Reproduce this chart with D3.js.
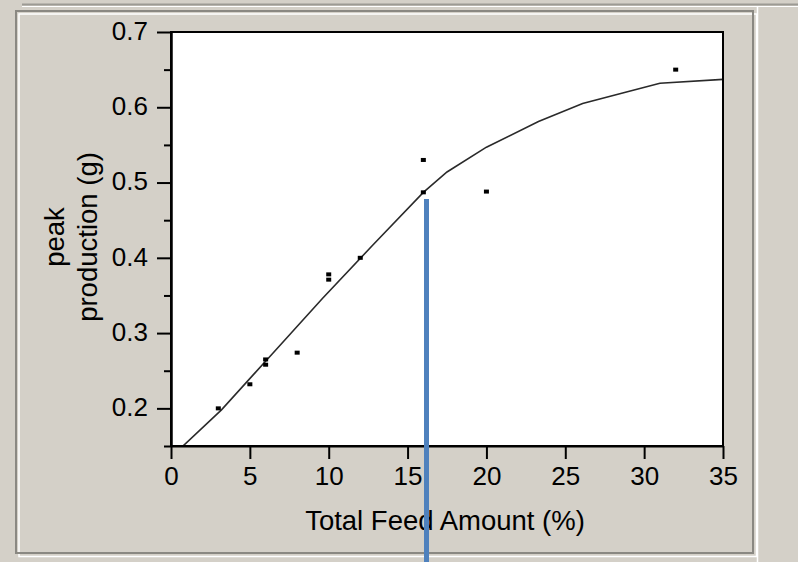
<!DOCTYPE html>
<html>
<head>
<meta charset="utf-8">
<script src="https://cdn.jsdelivr.net/npm/d3@7"></script>
<style>
  html, body { margin: 0; padding: 0; background: #D4D0C8; }
  svg { display: block; }
  text { font-family: "Liberation Sans", Arial, sans-serif; fill: #000; }
</style>
</head>
<body>
<svg id="chart" width="798" height="562"></svg>
<script>
// Observed points: total feed amount (%) vs peak production (g)
const feedPct = [3, 5, 6, 6, 8, 10, 10, 12, 16, 16, 20, 32];
const peakG   = [0.200, 0.232, 0.258, 0.265, 0.274, 0.371, 0.378, 0.400, 0.530, 0.487, 0.488, 0.650];

// Fitted curve, sampled along the feed range
const fitX = [0.0, 3.2, 6.4, 9.6, 12.8, 16.0, 17.5, 20.0, 23.3, 26.1, 29.0, 31.0, 35.0];
const fitY = [0.135, 0.198, 0.272, 0.346, 0.417, 0.487, 0.514, 0.547, 0.581, 0.605, 0.621, 0.632, 0.637];

// Axis ticks
const xTicks = [0, 5, 10, 15, 20, 25, 30, 35];
const yTicks = [0.2, 0.3, 0.4, 0.5, 0.6, 0.7];
const yMinorTicks = [0.15, 0.25, 0.35, 0.45, 0.55, 0.65];

// Reference marker at a chosen feed amount
const markerX = 16.2;
const markerTopY = 0.478;

const svg = d3.select("#chart");
const W = 798, H = 562;
const plot = { left: 171, right: 723, top: 32, bottom: 446 };

const x = d3.scaleLinear().domain([0, 35]).range([plot.left, plot.right]);
const y = d3.scaleLinear().domain([0.15, 0.7]).range([plot.bottom, plot.top]);

// Window chrome: etched panel borders
svg.append("rect").attr("width", W).attr("height", H).attr("fill", "#D4D0C8");
svg.append("line").attr("x1", 22).attr("x2", W).attr("y1", 4.5).attr("y2", 4.5)
  .attr("stroke", "#9c9a94").attr("stroke-width", 2);
svg.append("line").attr("x1", 22).attr("x2", W).attr("y1", 6.5).attr("y2", 6.5)
  .attr("stroke", "#ffffff").attr("stroke-width", 1);
svg.append("line").attr("x1", 757.5).attr("x2", 757.5).attr("y1", 7).attr("y2", H)
  .attr("stroke", "#ffffff").attr("stroke-width", 1.5);
svg.append("rect").attr("x", 19).attr("y", 14).attr("width", 737.5).attr("height", 542.5)
  .attr("fill", "none").attr("stroke", "#ffffff").attr("stroke-width", 1.5);
svg.append("rect").attr("x", 16).attr("y", 11).attr("width", 737).attr("height", 542)
  .attr("fill", "none").attr("stroke", "#8a8882").attr("stroke-width", 2);

// Plot area
svg.append("rect")
  .attr("x", plot.left).attr("y", plot.top)
  .attr("width", plot.right - plot.left).attr("height", plot.bottom - plot.top)
  .attr("fill", "#fff");

svg.append("defs").append("clipPath").attr("id", "plotClip")
  .append("rect")
  .attr("x", plot.left).attr("y", plot.top)
  .attr("width", plot.right - plot.left).attr("height", plot.bottom - plot.top);

// Fitted curve
const fitPts = fitX.map((v, i) => [v, fitY[i]]);
svg.append("path")
  .datum(fitPts)
  .attr("clip-path", "url(#plotClip)")
  .attr("fill", "none")
  .attr("stroke", "#2a2a2a")
  .attr("stroke-width", 1.6)
  .attr("d", d3.line().x(d => x(d[0])).y(d => y(d[1])));

// Observations
svg.append("g").selectAll("rect")
  .data(feedPct.map((v, i) => [v, peakG[i]]))
  .join("rect")
  .attr("x", d => x(d[0]) - 2.5)
  .attr("y", d => y(d[1]) - 2)
  .attr("width", 5).attr("height", 4)
  .attr("fill", "#000");

// Frame (top and right)
svg.append("rect")
  .attr("x", plot.left).attr("y", plot.top)
  .attr("width", plot.right - plot.left).attr("height", plot.bottom - plot.top)
  .attr("fill", "none").attr("stroke", "#000").attr("stroke-width", 2);

// Axes
const xAxis = svg.append("g")
  .attr("transform", `translate(0,${plot.bottom})`)
  .call(d3.axisBottom(x).tickValues(xTicks).tickSize(13).tickSizeOuter(0).tickPadding(8)
    .tickFormat(d3.format("d")));

const yAxis = svg.append("g")
  .attr("transform", `translate(${plot.left},0)`)
  .call(d3.axisLeft(y).tickValues(yTicks).tickSize(14).tickSizeOuter(0).tickPadding(9)
    .tickFormat(d3.format(".1f")));

const yMinor = svg.append("g")
  .attr("transform", `translate(${plot.left},0)`)
  .call(d3.axisLeft(y).tickValues(yMinorTicks).tickSize(7).tickSizeOuter(0).tickFormat(""));

[xAxis, yAxis, yMinor].forEach(g => {
  g.select(".domain").attr("stroke", "#000").attr("stroke-width", 2);
  g.selectAll(".tick line").attr("stroke", "#000").attr("stroke-width", 2);
  g.selectAll(".tick text")
    .attr("font-size", 26)
    .attr("font-family", "'Liberation Sans', Arial, sans-serif")
    .attr("fill", "#000");
});
yAxis.selectAll(".tick text").attr("dy", "0.28em");

// Axis titles
svg.append("text")
  .attr("x", (plot.left + plot.right) / 2 - 2)
  .attr("y", 530)
  .attr("text-anchor", "middle")
  .attr("font-size", 27.5)
  .text("Total Feed Amount (%)");

const yTitle = svg.append("text")
  .attr("transform", `translate(0,${(plot.top + plot.bottom) / 2 - 2}) rotate(-90)`)
  .attr("text-anchor", "middle")
  .attr("font-size", 27.5);
yTitle.append("tspan").attr("x", 0).attr("y", 64).text("peak");
yTitle.append("tspan").attr("x", 0).attr("y", 97).text("production (g)");

// Marker line
svg.append("line")
  .attr("x1", x(markerX)).attr("x2", x(markerX))
  .attr("y1", y(markerTopY)).attr("y2", H)
  .attr("stroke", "#4F81BD").attr("stroke-width", 5);
</script>
</body>
</html>
